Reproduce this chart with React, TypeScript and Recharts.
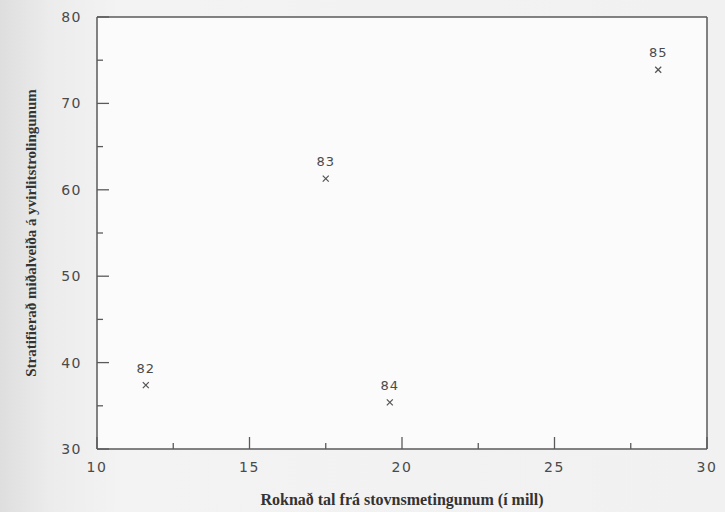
import { ScatterChart, Scatter, XAxis, YAxis, CartesianGrid, ReferenceLine, LabelList } from 'recharts';

const years = ['82', '83', '84', '85'];
const stockCounts = [11.6, 17.5, 19.6, 28.4];
const surveyCatch = [37.4, 61.3, 35.4, 73.9];

const xTicks = [10, 12.5, 15, 17.5, 20, 22.5, 25, 27.5, 30];
const yTicks = [30, 35, 40, 45, 50, 55, 60, 65, 70, 75, 80];

const data = years.map((year, i) => ({ year, x: stockCounts[i], y: surveyCatch[i] }));

const AXIS = '#5a5a5a';
const TEXT = '#4a4a4a';
const tickFont = { fontFamily: '"DejaVu Sans", sans-serif', fontSize: 14, letterSpacing: 1.5 };

const YTick = (props: any) => {
  const { x, y, payload } = props;
  const axisX = x + 12;
  const major = payload.value % 10 === 0;
  return (
    <g>
      <line x1={axisX} x2={axisX + (major ? 12 : 6)} y1={y} y2={y} stroke={AXIS} strokeWidth={1.3} />
      {major && (
        <text x={x - 3} y={y} dy={5} textAnchor="end" fill={TEXT} style={tickFont}>
          {payload.value}
        </text>
      )}
    </g>
  );
};

const XTick = (props: any) => {
  const { x, y, payload } = props;
  const axisY = y - 12;
  const major = payload.value % 5 === 0;
  return (
    <g>
      <line x1={x} x2={x} y1={axisY} y2={axisY - (major ? 12 : 6)} stroke={AXIS} strokeWidth={1.3} />
      {major && (
        <text x={x} y={y} dy={11} textAnchor="middle" fill={TEXT} style={tickFont}>
          {payload.value}
        </text>
      )}
    </g>
  );
};

const Cross = (props: any) => {
  const { cx, cy } = props;
  const r = 3;
  return (
    <g stroke="#555" strokeWidth={1.2}>
      <line x1={cx - r} y1={cy - r} x2={cx + r} y2={cy + r} />
      <line x1={cx - r} y1={cy + r} x2={cx + r} y2={cy - r} />
    </g>
  );
};

export default function App() {
  return (
    <div
      style={{
        width: 725,
        height: 512,
        background: 'linear-gradient(to right, #dedede 0px, #ececec 50px, #f3f3f3 120px, #f1f1f1 100%)',
      }}
    >
      <style>{'body{margin:0}'}</style>
      <ScatterChart width={725} height={512} margin={{ top: 17, right: 18, bottom: 0, left: 0 }}>
        <CartesianGrid horizontal={false} vertical={false} fill="#fbfbfb" />
        <XAxis
          type="number"
          dataKey="x"
          domain={[10, 30]}
          ticks={xTicks}
          interval={0}
          height={63}
          tickSize={0}
          tickMargin={12}
          tickLine={false}
          axisLine={{ stroke: AXIS, strokeWidth: 1.5 }}
          tick={<XTick />}
          label={{
            value: 'Roknað tal frá stovnsmetingunum (í mill)',
            position: 'insideBottom',
            offset: 7,
            fill: '#333',
            style: { fontFamily: '"Liberation Serif", serif', fontSize: 16, fontWeight: 'bold' },
          }}
        />
        <YAxis
          type="number"
          dataKey="y"
          domain={[30, 80]}
          ticks={yTicks}
          interval={0}
          width={97}
          tickSize={0}
          tickMargin={12}
          tickLine={false}
          axisLine={{ stroke: AXIS, strokeWidth: 1.5 }}
          tick={<YTick />}
          label={{
            value: 'Stratifierað miðalveiða á yvirlitstrolingunum',
            angle: -90,
            position: 'insideLeft',
            offset: 31,
            textAnchor: 'middle',
            fill: '#333',
            style: { fontFamily: '"Liberation Serif", serif', fontSize: 15, fontWeight: 'bold', textAnchor: 'middle' },
          }}
        />
        <ReferenceLine y={80} stroke={AXIS} strokeWidth={1.5} />
        <ReferenceLine x={30} stroke={AXIS} strokeWidth={1.5} />
        <Scatter data={data} shape={<Cross />} isAnimationActive={false}>
          <LabelList
            dataKey="year"
            position="top"
            offset={8}
            fill={TEXT}
            style={{ fontFamily: '"DejaVu Sans", sans-serif', fontSize: 13, letterSpacing: 1 }}
          />
        </Scatter>
      </ScatterChart>
    </div>
  );
}
